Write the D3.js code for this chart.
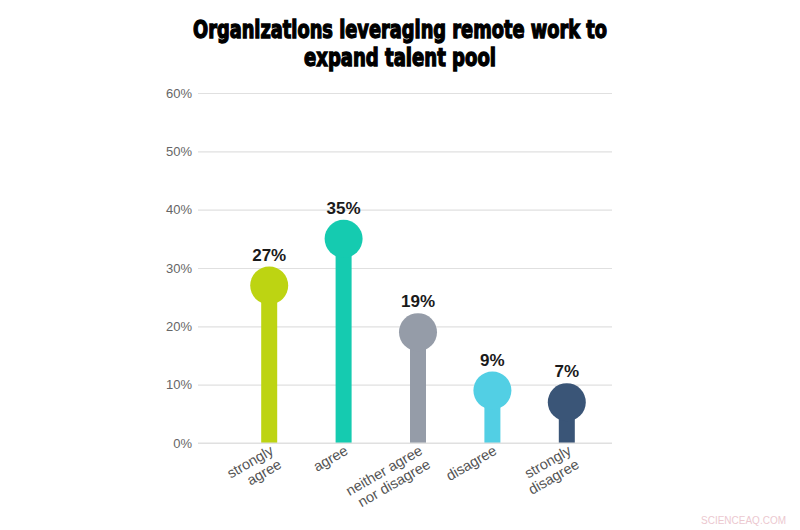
<!DOCTYPE html>
<html><head><meta charset="utf-8">
<script src="https://cdn.jsdelivr.net/npm/d3@7"></script>
<style>body{margin:0;background:#fff}svg{display:block}</style>
</head><body>
<svg id="chart" width="800" height="530"></svg>
<script>
const categories = [["strongly","agree"],["agree"],["neither agree","nor disagree"],["disagree"],["strongly","disagree"]];
const values = [27, 35, 19, 9, 7];
const colors = ["#bdd412", "#15cbb0", "#959ca8", "#52cfe4", "#3a5577"];
const yTicks = [0, 10, 20, 30, 40, 50, 60];
const titleLines = ["Organizations leveraging remote work to", "expand talent pool"];
const titleWidths = [414, 192];

(function(){
const svg = d3.select("#chart");
const pL = 198, pR = 612, pT = 93, pB = 443;
const y = d3.scaleLinear().domain([0, 60]).range([pB, pT]);
const x = d3.scaleBand().domain(d3.range(values.length)).range([232, 604]).padding(0);

// title
svg.append("g").selectAll("text").data(titleLines).join("text")
  .attr("x", 400).attr("y", (d,i) => 37.5 + i*28.5)
  .attr("text-anchor", "middle")
  .attr("font-family", "DejaVu Sans Condensed, DejaVu Sans, sans-serif")
  .attr("font-stretch", "condensed")
  .attr("font-weight", "bold").attr("font-size", 24.5)
  .attr("textLength", (d,i) => titleWidths[i]).attr("lengthAdjust", "spacingAndGlyphs")
  .attr("fill", "#000").attr("stroke", "#000").attr("stroke-width", 1.3)
  .text(d => d);

// grid + axis
const yAxis = d3.axisLeft(y).tickValues(yTicks).tickFormat(d => d + "%").tickSize(-(pR-pL)).tickPadding(6);
const ga = svg.append("g").attr("transform", `translate(${pL},0)`).call(yAxis);
ga.select(".domain").remove();
ga.selectAll(".tick line").attr("stroke", "#e0e0e0").attr("stroke-width", 1.2);
ga.selectAll(".tick text").attr("fill", "#666").attr("font-size", 13)
  .attr("font-family", "Liberation Sans, Arial, sans-serif");

const cx = i => x(i) + x.bandwidth()/2;
const r = 19;

// stems
svg.append("g").selectAll("rect").data(values).join("rect")
  .attr("x", (d,i) => cx(i) - 8).attr("width", 16)
  .attr("y", d => y(d)).attr("height", d => pB - y(d))
  .attr("fill", (d,i) => colors[i]);
// heads
svg.append("g").selectAll("circle").data(values).join("circle")
  .attr("cx", (d,i) => cx(i)).attr("cy", d => y(d)).attr("r", r)
  .attr("fill", (d,i) => colors[i]);
// value labels
svg.append("g").selectAll("text").data(values).join("text")
  .attr("x", (d,i) => cx(i)).attr("y", d => y(d) - r - 6)
  .attr("text-anchor", "middle")
  .attr("font-family", "Liberation Sans, Arial, sans-serif")
  .attr("font-weight", "bold").attr("font-size", 17).attr("fill", "#1a1a1a")
  .text(d => d + "%");

// baseline
svg.append("line").attr("x1", pL).attr("x2", pR).attr("y1", pB).attr("y2", pB)
  .attr("stroke", "#e0e0e0").attr("stroke-width", 1.2);

// category labels
const cl = svg.append("g").selectAll("text").data(categories).join("text")
  .attr("transform", (d,i) => `translate(${cx(i)},${pB + 1}) rotate(-30)`)
  .attr("text-anchor", "end")
  .attr("font-family", "Liberation Sans, Arial, sans-serif")
  .attr("font-size", 14.5).attr("fill", "#555");
cl.selectAll("tspan").data(d => d).join("tspan")
  .attr("x", 0).attr("dy", (d,i) => i === 0 ? "0.75em" : "1.1em")
  .text(d => d);

// watermark
svg.append("text").attr("x", 786).attr("y", 524).attr("text-anchor", "end")
  .attr("font-family", "Liberation Sans, Arial, sans-serif").attr("font-size", 10)
  .attr("fill", "#ecc8cf").text("SCIENCEAQ.COM");
})();
</script>
</body></html>
